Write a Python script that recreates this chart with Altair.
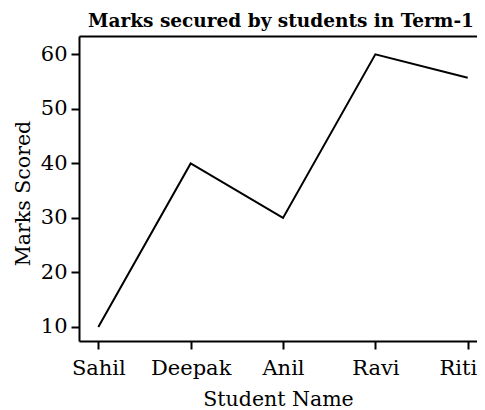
import altair as alt
import pandas as pd

students = ["Sahil", "Deepak", "Anil", "Ravi", "Riti"]
marks = [10, 40, 30, 60, 55.7]

df = pd.DataFrame({"Student Name": students, "Marks Scored": marks})

FONT = "DejaVu Serif"

x_scale = alt.Scale(type="point", padding=0.155, align=0.675)
y_scale = alt.Scale(domain=[7.43, 63.36], nice=False, zero=False)

base = alt.Chart(df)

line = base.mark_line(color="black", strokeWidth=2).encode(
    x=alt.X(
        "Student Name:N",
        sort=students,
        scale=x_scale,
        axis=alt.Axis(
            title="Student Name",
            labelAngle=0,
            labelFontSize=21,
            titleFontSize=20.5,
            labelFont=FONT,
            titleFont=FONT,
            labelColor="black",
            titleColor="black",
            titleFontWeight="normal",
            domainColor="black",
            domainWidth=2,
            tickColor="black",
            tickWidth=2,
            tickSize=8,
            labelBaseline="alphabetic",
            labelPadding=25,
            labelFlush=10,
            labelFlushOffset=9,
            titleY=64,
            titleBaseline="alphabetic",
            grid=False,
        ),
    ),
    y=alt.Y(
        "Marks Scored:Q",
        scale=y_scale,
        axis=alt.Axis(
            title="Marks Scored",
            values=[10, 20, 30, 40, 50, 60],
            labelFontSize=21,
            titleFontSize=20.5,
            labelFont=FONT,
            titleFont=FONT,
            labelColor="black",
            titleColor="black",
            titleFontWeight="normal",
            domainColor="black",
            domainWidth=2,
            tickColor="black",
            tickWidth=2,
            tickSize=8,
            labelPadding=4,
            titleX=-56,
            titleY=157,
            titleAngle=-90,
            titleBaseline="middle",
            titleAlign="center",
            grid=False,
        ),
    ),
)

top_frame = base.mark_line(opacity=0).encode(
    x=alt.X(
        "Student Name:N",
        sort=students,
        scale=x_scale,
        axis=alt.Axis(
            orient="top",
            labels=False,
            ticks=False,
            title=None,
            domainColor="black",
            domainWidth=2,
            grid=False,
        ),
    ),
    y=alt.Y("Marks Scored:Q", scale=y_scale, axis=None),
)

chart = (
    alt.layer(line, top_frame)
    .resolve_axis(x="independent", y="independent")
    .properties(
        width=398,
        height=305,
        title=alt.TitleParams(
            "Marks secured by students in Term-1",
            font=FONT,
            fontSize=18.5,
            fontWeight="bold",
            color="black",
            anchor="middle",
            frame="group",
            baseline="alphabetic",
            offset=11,
            dy=20,
            dx=3,
        ),
        autosize=alt.AutoSizeParams(type="none"),
        padding={"left": 71, "top": 28, "right": 0, "bottom": 68},
    )
    .configure_view(stroke=None)
    .configure(background="white")
)

chart.save("out.html", embed_options={"renderer": "svg", "actions": False})
